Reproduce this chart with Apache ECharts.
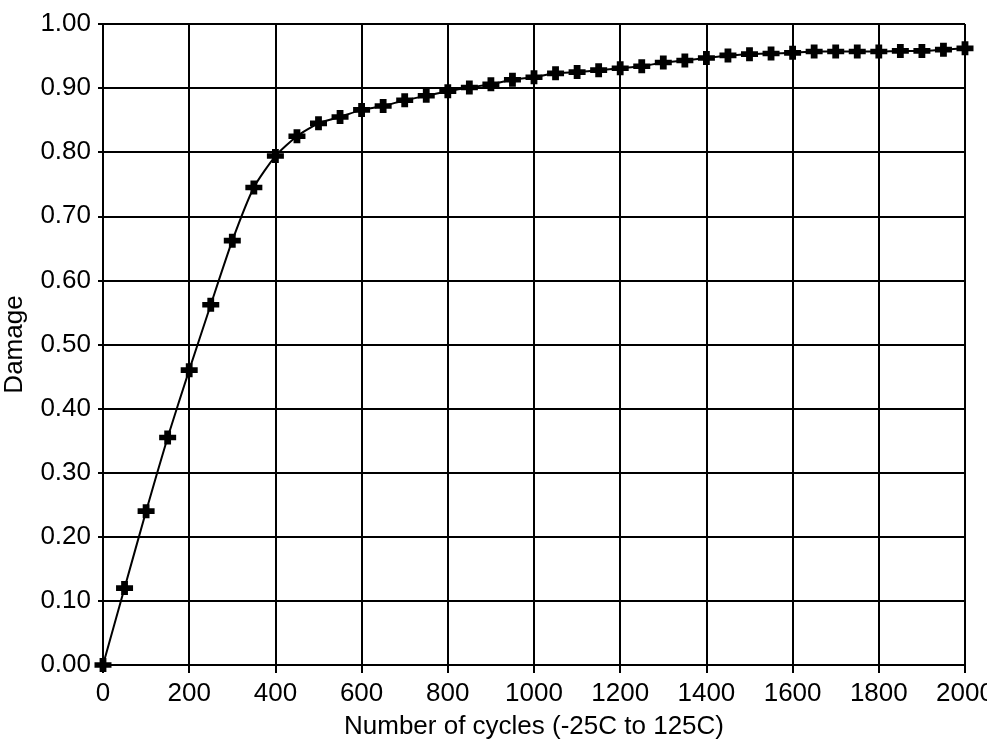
<!DOCTYPE html>
<html>
<head>
<meta charset="utf-8">
<script src="https://cdn.jsdelivr.net/npm/echarts@6/dist/echarts.min.js"></script>
<style>
  html, body { margin: 0; padding: 0; background: #fff; overflow: hidden; }
  #chart { width: 987px; height: 749px; }
</style>
</head>
<body>
<div id="chart"></div>
<script>
// 循环次数 (x 轴)
const cycles = [0, 50, 100, 150, 200, 250, 300, 350, 400, 450, 500, 550, 600, 650, 700,
  750, 800, 850, 900, 950, 1000, 1050, 1100, 1150, 1200, 1250, 1300, 1350, 1400, 1450,
  1500, 1550, 1600, 1650, 1700, 1750, 1800, 1850, 1900, 1950, 2000];

// 损伤值 (y 轴)
const damage = [0, 0.12, 0.24, 0.355, 0.46, 0.562, 0.662, 0.745, 0.794, 0.825, 0.845,
  0.855, 0.866, 0.872, 0.881, 0.888, 0.895, 0.901, 0.906, 0.913, 0.917, 0.923, 0.925,
  0.928, 0.931, 0.934, 0.94, 0.943, 0.947, 0.951, 0.953, 0.954, 0.955, 0.957, 0.957,
  0.957, 0.957, 0.958, 0.958, 0.96, 0.962];

const xTitle = "Number of cycles (-25C to 125C)";
const yTitle = "Damage";

document.addEventListener("DOMContentLoaded", function () {
  const chart = echarts.init(document.getElementById("chart"));

  const font = "'Liberation Sans', Arial, sans-serif";

  // 十字标记（粗）
  const plusMark = "path://M3,0H7V3H10V7H7V10H3V7H0V3H3Z";

  const option = {
    animation: false,
    backgroundColor: "#fff",
    grid: {
      left: 103, top: 24, width: 862, height: 641,
      containLabel: false,
      outerBoundsMode: "none",
    },
    xAxis: {
      type: "value",
      min: 0,
      max: 2000,
      interval: 200,
      name: xTitle,
      nameLocation: "middle",
      nameGap: 49,
      nameTextStyle: { color: "#000", fontSize: 26, fontFamily: font },
      axisLine: { show: true, lineStyle: { color: "#000", width: 2 } },
      axisTick: { show: true, inside: false, length: 8, lineStyle: { color: "#000", width: 2 } },
      axisLabel: {
        color: "#000",
        fontSize: 26,
        fontFamily: font,
        margin: 16,
        formatter: function (v) { return String(v); },
      },
      splitLine: { show: true, lineStyle: { color: "#000", width: 2 } },
    },
    yAxis: {
      type: "value",
      min: 0,
      max: 1,
      interval: 0.1,
      name: yTitle,
      nameLocation: "middle",
      nameGap: 75,
      nameTextStyle: { color: "#000", fontSize: 26, fontFamily: font },
      axisLine: { show: true, lineStyle: { color: "#000", width: 2 } },
      axisTick: { show: true, inside: false, length: 5, lineStyle: { color: "#000", width: 2 } },
      axisLabel: {
        color: "#000",
        fontSize: 26,
        fontFamily: font,
        margin: 12,
        formatter: function (v) { return v.toFixed(2); },
      },
      splitLine: { show: true, lineStyle: { color: "#000", width: 2 } },
    },
    series: [
      {
        name: yTitle,
        type: "line",
        data: cycles.map((c, i) => [c, damage[i]]),
        smooth: 0.2,
        symbol: plusMark,
        symbolSize: [17, 14],
        showAllSymbol: true,
        clip: false,
        lineStyle: { color: "#000", width: 2 },
        itemStyle: { color: "#000", borderWidth: 0 },
      },
    ],
  };

  chart.setOption(option);
});
</script>
</body>
</html>
